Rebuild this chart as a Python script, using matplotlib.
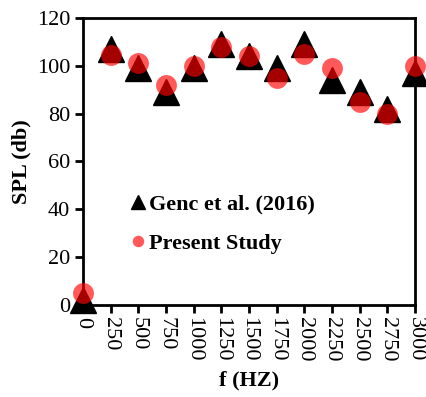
import matplotlib
matplotlib.use("Agg")
import matplotlib.pyplot as plt

# frequency (Hz) and sound pressure level (dB)
freq = [0, 250, 500, 750, 1000, 1250, 1500, 1750, 2000, 2250, 2500, 2750, 3000]
spl_genc = [2, 107, 99, 89, 99, 109, 104, 99, 109, 94, 89, 82, 97]
spl_present = [5, 104.5, 101, 92, 100, 108, 104, 95, 105, 99, 85, 80, 100]

plt.rcParams["font.family"] = ["Liberation Serif", "DejaVu Serif"]
plt.rcParams["font.size"] = 16

fig = plt.figure(figsize=(4.27, 3.97), dpi=100)
ax = fig.add_axes([0.194, 0.232, 0.778, 0.723])

ax.plot(freq, spl_genc, linestyle="none", marker="^", color="black",
        markersize=19, label="Genc et al. (2016)", clip_on=False, zorder=3)
ax.plot(freq, spl_present, linestyle="none", marker="o", color="red",
        alpha=0.65, markeredgewidth=0, markersize=15, label="Present Study",
        clip_on=False, zorder=4)

ax.set_xlim(0, 3000)
ax.set_ylim(0, 120)
ax.set_xticks(freq)
ax.set_xticklabels([str(f) for f in freq], rotation=-90)
ax.set_yticks(range(0, 121, 20))

for s in ax.spines.values():
    s.set_linewidth(2)
ax.tick_params(width=2, length=6, labelsize=16, pad=3)

ax.set_xlabel("f (HZ)", fontweight="bold", fontsize=16, labelpad=6)
ax.set_ylabel("SPL (db)", fontweight="bold", fontsize=16, labelpad=4)

ax.legend(loc="center left", bbox_to_anchor=(0.073, 0.282), frameon=False,
          markerscale=0.55, handletextpad=0.0, handlelength=1,
          labelspacing=0.85, prop={"weight": "bold", "size": 16})

fig.savefig("out.png", dpi=100)
